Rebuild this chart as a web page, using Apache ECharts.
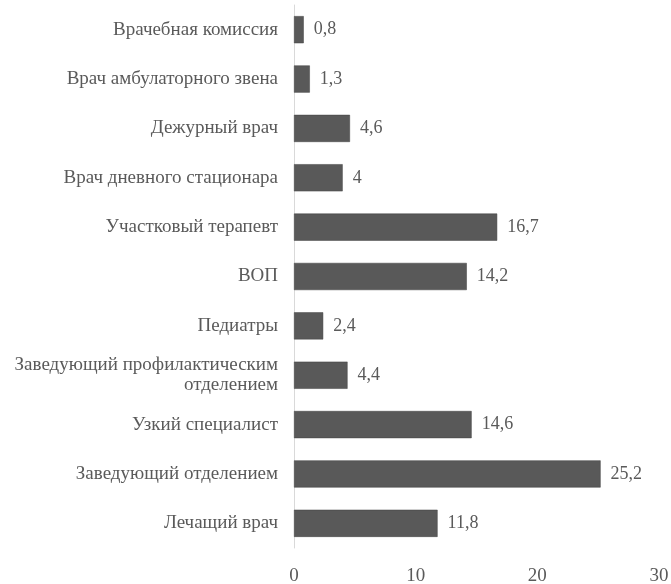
<!DOCTYPE html>
<html>
<head>
<meta charset="utf-8">
<script src="https://cdn.jsdelivr.net/npm/echarts@6/dist/echarts.min.js"></script>
<style>
html, body { margin: 0; padding: 0; background: #fff; }
#main { width: 671px; height: 584px; }
</style>
</head>
<body>
<div id="main"></div>
<script>
var myChart = echarts.init(document.getElementById('main'));

var categories = [
	'Врачебная комиссия',
	'Врач амбулаторного звена',
	'Дежурный врач',
	'Врач дневного стационара',
	'Участковый терапевт',
	'ВОП',
	'Педиатры',
	'Заведующий профилактическим\nотделением',
	'Узкий специалист',
	'Заведующий отделением',
	'Лечащий врач'
];
var values = [0.8, 1.3, 4.6, 4, 16.7, 14.2, 2.4, 4.4, 14.6, 25.2, 11.8];
var xTicks = [0, 10, 20, 30];

var textColor = '#5a5a5a';
var fontFamily = '"Liberation Serif", "Times New Roman", serif';

var option = {
	backgroundColor: '#fff',
	animation: false,
	grid: {
		left: 294,
		right: 12,
		top: 5,
		bottom: 36,
		containLabel: false,
		outerBoundsMode: 'none'
	},
	xAxis: {
		type: 'value',
		min: xTicks[0],
		max: xTicks[xTicks.length - 1],
		interval: 10,
		axisLine: { show: false },
		axisTick: { show: false },
		splitLine: { show: false },
		axisLabel: {
			color: textColor,
			fontFamily: fontFamily,
			fontSize: 19,
			margin: 19
		}
	},
	yAxis: {
		type: 'category',
		inverse: true,
		data: categories,
		axisLine: {
			show: true,
			lineStyle: { color: '#d9d9d9', width: 1 }
		},
		axisTick: { show: false },
		axisLabel: {
			color: textColor,
			fontFamily: fontFamily,
			fontSize: 19,
			lineHeight: 20,
			margin: 16,
			align: 'right'
		}
	},
	series: [{
		type: 'bar',
		data: values,
		barCategoryGap: '45%',
		itemStyle: {
			color: '#595959',
			borderColor: '#404040',
			borderWidth: 0.5
		},
		label: {
			show: true,
			position: 'right',
			distance: 10,
			color: textColor,
			fontFamily: fontFamily,
			fontSize: 18,
			formatter: function(p) {
				return String(p.value).replace('.', ',');
			}
		}
	}]
};

myChart.setOption(option);
</script>
</body>
</html>
